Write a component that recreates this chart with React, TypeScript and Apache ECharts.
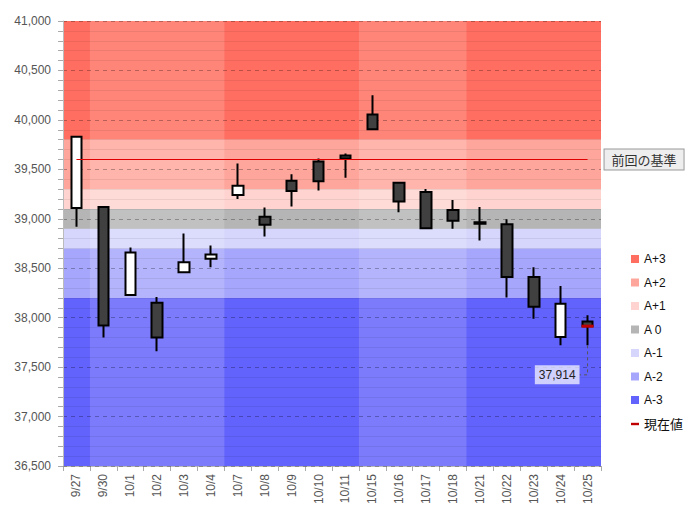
import React, { useEffect, useRef } from 'react';
import * as echarts from 'echarts';

const dates = ['9/27', '9/30', '10/1', '10/2', '10/3', '10/4', '10/7', '10/8', '10/9', '10/10', '10/11', '10/15', '10/16', '10/17', '10/18', '10/21', '10/22', '10/23', '10/24', '10/25'];
// [open, close, low, high]
const ohlc = [
  [39110, 39830, 38920, 39830],
  [39120, 37920, 37800, 39120],
  [38230, 38660, 38230, 38710],
  [38150, 37800, 37660, 38210],
  [38460, 38560, 38460, 38850],
  [38595, 38640, 38510, 38730],
  [39240, 39335, 39200, 39560],
  [39020, 38940, 38820, 39115],
  [39385, 39280, 39125, 39450],
  [39580, 39380, 39285, 39610],
  [39640, 39610, 39415, 39660],
  [40055, 39905, 39905, 40250],
  [39365, 39175, 39065, 39365],
  [39270, 38905, 38905, 39300],
  [39090, 38980, 38900, 39190],
  [38965, 38950, 38780, 39120],
  [38945, 38410, 38205, 38995],
  [38410, 38110, 37990, 38510],
  [37805, 38140, 37720, 38320],
  [37960, 37914, 37720, 38025],
];
const bandNames = ['A+3', 'A+2', 'A+1', 'A 0', 'A-1', 'A-2', 'A-3'];
const bandLows = [39800, 39300, 39100, 38900, 38700, 38200, 36500];
const bandHighs = [41000, 39800, 39300, 39100, 38900, 38700, 38200];
const bandColors = ['#ff6e60', '#ffa69c', '#ffd4d0', '#b5b5b5', '#d6d6fc', '#a6a6fc', '#6262fc'];
const lightWeekStarts = [1, 11];
const lightWeekEnds = [5, 14];
const prevBaseValue = 39600;
const prevBaseLabel = '前回の基準';
const currentName = '現在値';
const currentValue = 37914;
const yMin = 36500;
const yMax = 41000;
const yStep = 500;

const FONT = '"Liberation Sans", Arial, "Noto Sans CJK JP", sans-serif';
const fmt = (v: number) => Math.round(v).toLocaleString('en-US');

export default function App() {
  const ref = useRef<HTMLDivElement>(null);
  useEffect(() => {
    if (!ref.current) return;
    const chart = echarts.init(ref.current, null, { renderer: 'svg' });
    const lastIdx = dates.length - 1;

    const bandSeries = bandNames.map((name, i) => ({
      name,
      type: 'custom',
      z: 0,
      silent: true,
      itemStyle: { color: bandColors[i] },
      encode: { x: 0, y: [1, 2] },
      data: [[0, bandLows[i], bandHighs[i]]],
      renderItem: (params: any, api: any) => {
        const cs = params.coordSys;
        const yTop = api.coord([0, api.value(2)])[1];
        const yBot = api.coord([0, api.value(1)])[1];
        return {
          type: 'rect',
          shape: { x: cs.x, y: yTop, width: cs.width, height: yBot - yTop },
          style: { fill: bandColors[i] },
        };
      },
    }));

    const weekSeries = {
      name: 'weeks',
      type: 'custom',
      z: 1,
      silent: true,
      encode: { x: [0, 1], y: 2 },
      data: lightWeekStarts.map((s, i) => [s, lightWeekEnds[i], yMin]),
      renderItem: (params: any, api: any) => {
        const cs = params.coordSys;
        const bw = api.size([1, 0])[0];
        const x1 = api.coord([api.value(0), yMin])[0] - bw / 2;
        const x2 = api.coord([api.value(1), yMin])[0] + bw / 2;
        return {
          type: 'rect',
          shape: { x: x1, y: cs.y, width: x2 - x1, height: cs.height },
          style: { fill: 'rgba(255,255,255,0.16)' },
        };
      },
    };

    const candle = {
      name: 'candle',
      type: 'candlestick',
      z: 3,
      barWidth: 11,
      silent: true,
      itemStyle: {
        color: '#ffffff',
        color0: '#404040',
        borderColor: '#000000',
        borderColor0: '#000000',
        borderWidth: 2,
      },
      data: ohlc,
      markLine: {
        silent: true,
        symbol: ['none', 'none'],
        lineStyle: { color: '#e00000', width: 1, type: 'solid' },
        label: {
          show: true,
          position: 'end',
          distance: 17,
          formatter: prevBaseLabel,
          fontFamily: '"Noto Sans CJK JP", sans-serif',
          fontSize: 13,
          color: '#333',
          backgroundColor: '#eeeeee',
          borderColor: '#999999',
          borderWidth: 1,
          padding: [4, 7, 3, 7],
        },
        emphasis: { disabled: true },
        data: [[{ coord: [0, prevBaseValue] }, { coord: [lastIdx, prevBaseValue] }]],
      },
    };

    const currentSeries = {
      name: currentName,
      type: 'custom',
      z: 4,
      silent: true,
      itemStyle: { color: '#c00000' },
      encode: { x: 0, y: [1, 2] },
      data: [[lastIdx, currentValue, ohlc[lastIdx][2]]],
      renderItem: (params: any, api: any) => {
        const p = api.coord([api.value(0), api.value(1)]);
        const pl = api.coord([api.value(0), api.value(2)]);
        const w = 12;
        const labelY = pl[1] + 29.5;
        return {
          type: 'group',
          children: [
            {
              type: 'rect',
              shape: { x: p[0] - w / 2, y: p[1] - 1.5, width: w, height: 3 },
              style: { fill: '#c00000' },
            },
            {
              type: 'polyline',
              shape: { points: [[p[0], pl[1]], [p[0], labelY], [p[0] - 8, labelY]] },
              style: { stroke: '#555', lineWidth: 1, lineDash: [3, 3], fill: null },
            },
            {
              type: 'text',
              x: p[0] - 8,
              y: labelY,
              style: {
                text: fmt(api.value(1)),
                align: 'right',
                verticalAlign: 'middle',
                fontSize: 12,
                fontFamily: FONT,
                fill: '#222',
                backgroundColor: 'rgba(255,255,255,0.7)',
                padding: [4, 4, 3, 4],
              },
            },
          ],
        };
      },
    };

    chart.setOption({
      animation: false,
      backgroundColor: '#ffffff',
      textStyle: { fontFamily: FONT },
      grid: { left: 63, right: 93, top: 21, bottom: 49, containLabel: false },
      legend: {
        orient: 'vertical',
        left: 626,
        top: 248,
        icon: 'rect',
        itemWidth: 8,
        itemHeight: 8,
        itemGap: 11.5,
        selectedMode: false,
        textStyle: { fontSize: 12, color: '#111', fontFamily: FONT },
        data: [
          ...bandNames,
          { name: currentName, icon: 'path://M0,0h10v3h-10z', textStyle: { fontSize: 13 } },
        ],
      },
      xAxis: {
        type: 'category',
        data: dates,
        boundaryGap: true,
        axisLine: { show: true, lineStyle: { color: '#bbbbbb' } },
        axisTick: { show: true, length: 5, lineStyle: { color: '#aaaaaa' } },
        axisLabel: { rotate: 90, interval: 0, fontSize: 12, color: '#555', margin: 8, fontFamily: FONT },
        splitLine: { show: false },
      },
      yAxis: {
        type: 'value',
        min: yMin,
        max: yMax,
        interval: yStep,
        z: 2,
        axisLine: { show: true, lineStyle: { color: '#bbbbbb' } },
        axisTick: { show: true, length: 5, lineStyle: { color: '#aaaaaa' } },
        minorTick: { show: true, splitNumber: 5, length: 5, lineStyle: { color: '#aaaaaa' } },
        splitLine: { show: true, lineStyle: { color: 'rgba(0,0,0,0.28)', type: [4, 4], width: 1 } },
        minorSplitLine: { show: true, lineStyle: { color: 'rgba(0,0,0,0.07)', width: 1 } },
        axisLabel: { formatter: (v: number) => fmt(v), fontSize: 12, color: '#555', margin: 12, fontFamily: FONT },
      },
      series: [...bandSeries, weekSeries, candle, currentSeries],
    });
    return () => chart.dispose();
  }, []);
  return (
    <div
      ref={ref}
      style={{ position: 'fixed', left: 0, top: 0, width: 694, height: 515, background: '#fff' }}
    />
  );
}
